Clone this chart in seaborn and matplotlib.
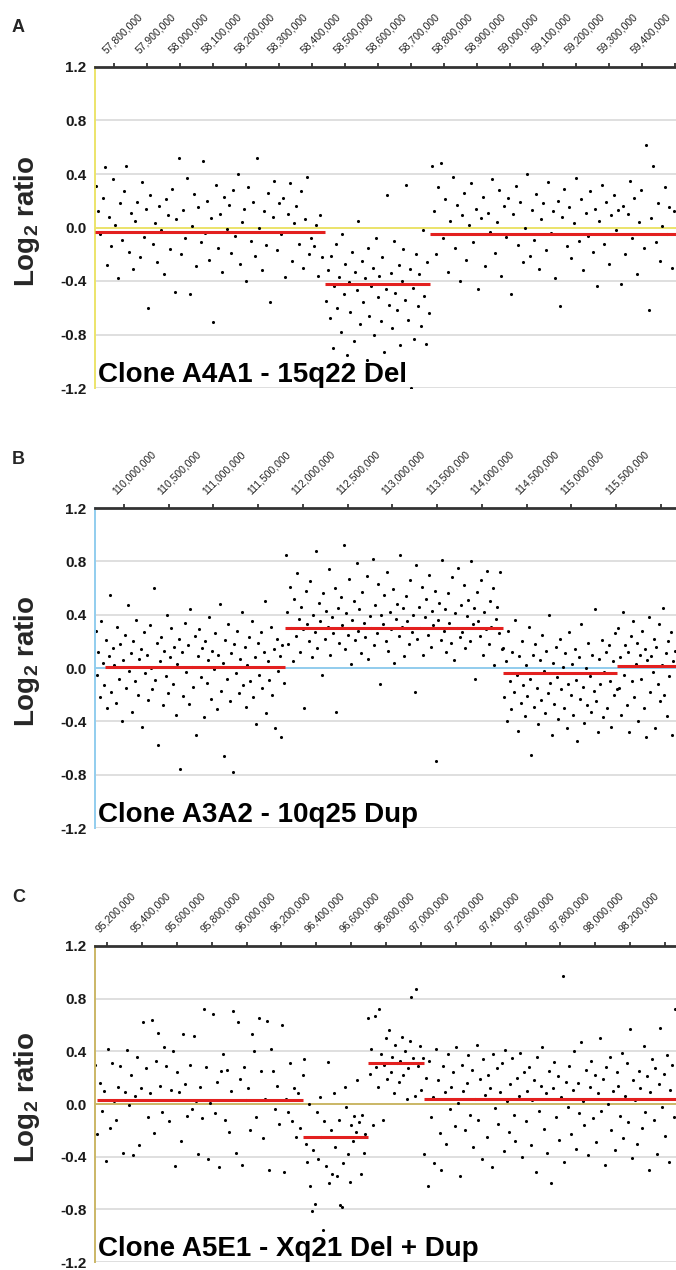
import pandas as pd
import seaborn as sns
import matplotlib.pyplot as plt
import matplotlib.transforms as mtransforms

# ---------------- Panel A : Clone A4A1 - 15q22 Del (positions in kb)
a_pos_kb = [
    57745, 57752, 57758, 57765, 57771, 57778, 57785, 57791, 57798, 57804,
    57811, 57818, 57824, 57831, 57837, 57844, 57851, 57857, 57864, 57870,
    57877, 57884, 57890, 57897, 57903, 57910, 57917, 57923, 57930, 57936,
    57943, 57950, 57956, 57963, 57969, 57976, 57983, 57989, 57996, 58002,
    58009, 58016, 58022, 58029, 58035, 58042, 58049, 58055, 58062, 58068,
    58075, 58082, 58088, 58095, 58101, 58108, 58115, 58121, 58128, 58134,
    58141, 58148, 58154, 58161, 58167, 58174, 58181, 58187, 58194, 58200,
    58207, 58214, 58220, 58227, 58233, 58240, 58247, 58253, 58260, 58266,
    58273, 58280, 58286, 58293, 58299, 58306, 58313, 58319, 58326, 58332,
    58339, 58346, 58352, 58359, 58365, 58372, 58379, 58385, 58392, 58398,
    58405, 58412, 58418, 58425, 58431,
    58443, 58448, 58453, 58458, 58462, 58467, 58472, 58477, 58482, 58487,
    58492, 58497, 58501, 58506, 58511, 58516, 58521, 58526, 58531, 58535,
    58540, 58545, 58550, 58555, 58560, 58565, 58569, 58574, 58579, 58584,
    58589, 58594, 58599, 58603, 58608, 58613, 58618, 58623, 58628, 58633,
    58638, 58642, 58647, 58652, 58657, 58662, 58667, 58672, 58676, 58681,
    58686, 58691, 58696, 58701, 58706, 58710, 58715, 58720, 58725, 58730,
    58735, 58740, 58744, 58749, 58753,
    58762, 58769, 58776, 58783, 58790, 58797, 58804, 58812, 58819, 58826,
    58833, 58840, 58847, 58854, 58861, 58868, 58875, 58882, 58889, 58896,
    58903, 58911, 58918, 58925, 58932, 58939, 58946, 58953, 58960, 58967,
    58974, 58981, 58988, 58995, 59002, 59010, 59017, 59024, 59031, 59038,
    59045, 59052, 59059, 59066, 59073, 59080, 59087, 59094, 59101, 59109,
    59116, 59123, 59130, 59137, 59144, 59151, 59158, 59165, 59172, 59179,
    59186, 59193, 59200, 59208, 59215, 59222, 59229, 59236, 59243, 59250,
    59257, 59264, 59271, 59278, 59285, 59292, 59299, 59307, 59314, 59321,
    59328, 59335, 59342, 59349, 59356, 59363, 59370, 59377, 59384, 59391,
    59398, 59406, 59413, 59420, 59427, 59434, 59441, 59448, 59455, 59462,
    59469, 59476, 59483, 59490, 59497]
a_log2 = [
    0.31, 0.12, -0.05, 0.22, 0.45, -0.28, 0.08, -0.14, 0.36, 0.02,
    -0.38, 0.18, -0.09, 0.27, 0.46, -0.18, 0.11, -0.31, 0.05, 0.19,
    -0.22, 0.34, -0.07, 0.14, -0.6, 0.24, -0.12, 0.03, -0.26, 0.16,
    -0.02, -0.35, 0.21, 0.09, -0.16, 0.29, -0.48, 0.06, 0.52, -0.2,
    0.13, -0.08, 0.37, -0.5, 0.01, 0.25, -0.29, 0.15, -0.11, 0.5,
    -0.04, 0.2, -0.24, 0.07, -0.71, 0.32, -0.15, 0.1, -0.33, 0.23,
    -0.01, 0.17, -0.19, 0.28, -0.06, 0.4, -0.27, 0.04, 0.14, -0.4,
    0.3, -0.1, 0.19, -0.21, 0.52, 0.0, -0.32, 0.12, -0.13, 0.26,
    -0.56, 0.08, 0.35, -0.17, 0.18, -0.05, 0.22, -0.37, 0.1, 0.33,
    -0.25, 0.03, 0.16, -0.12, 0.27, -0.3, 0.06, 0.38, -0.2, -0.08,
    -0.14, 0.02, -0.36, 0.09, -0.22,
    -0.55, -0.32, -0.68, -0.21, -0.9, -0.44, -0.12, -0.6, -0.37, -0.78,
    -0.05, -0.5, -0.27, -0.95, -0.41, -0.63, -0.18, -0.85, -0.33, -0.47,
    0.05, -0.72, -0.25, -0.56, -0.38, -0.99, -0.15, -0.66, -0.44, -0.3,
    -0.8, -0.08, -0.52, -0.36, -0.7, -0.22, -0.93, -0.46, 0.24, -0.58,
    -0.34, -0.75, -0.1, -0.49, -0.62, -0.28, -0.88, -0.4, -0.16, -0.54,
    0.32, -0.69, -0.31, -1.2, -0.45, -0.83, -0.2, -0.59, -0.35, -0.74,
    -0.02, -0.51, -0.87, -0.26, -0.64,
    0.46, 0.12, -0.2, 0.3, 0.48, -0.08, 0.21, -0.33, 0.05, 0.38,
    -0.15, 0.17, -0.4, 0.09, 0.26, -0.24, 0.02, 0.33, -0.11, 0.14,
    -0.46, 0.07, 0.23, -0.29, 0.11, -0.03, 0.36, -0.19, 0.04, 0.28,
    -0.36, 0.16, -0.07, 0.22, -0.5, 0.1, 0.31, -0.13, 0.19, -0.26,
    0.0, 0.4, -0.21, 0.13, -0.09, 0.25, -0.31, 0.06, 0.18, -0.17,
    0.34, -0.04, 0.12, -0.38, 0.2, -0.59, 0.08, 0.29, -0.14, 0.15,
    -0.23, 0.03, 0.37, -0.1, 0.21, -0.32, 0.11, -0.06, 0.27, -0.18,
    0.14, -0.44, 0.05, 0.32, -0.12, 0.19, -0.27, 0.09, 0.24, -0.02,
    0.13, -0.42, 0.16, -0.2, 0.1, 0.35, -0.08, 0.22, -0.35, 0.04,
    0.28, -0.15, 0.62, -0.62, 0.07, 0.46, -0.11, 0.18, -0.25, 0.01,
    0.3, -0.05, 0.15, -0.3, 0.12]
a_seg_start = [57742, 58439, 58757]
a_seg_end = [58439, 58757, 59503]
a_seg_mean = [-0.03, -0.42, -0.045]
a_ticks_kb = [57800, 57900, 58000, 58100, 58200, 58300, 58400, 58500, 58600,
              58700, 58800, 58900, 59000, 59100, 59200, 59300, 59400, 59500]
a_tick_labels = ['57,800,000', '57,900,000', '58,000,000', '58,100,000',
                 '58,200,000', '58,300,000', '58,400,000', '58,500,000',
                 '58,600,000', '58,700,000', '58,800,000', '58,900,000',
                 '59,000,000', '59,100,000', '59,200,000', '59,300,000',
                 '59,400,000', '']

# ---------------- Panel B : Clone A3A2 - 10q25 Dup
b_pos_kb = [
    109682, 109697, 109714, 109730, 109747, 109762, 109779, 109795, 109811, 109828,
    109844, 109860, 109877, 109893, 109909, 109926, 109942, 109958, 109975, 109991,
    110007, 110024, 110040, 110056, 110073, 110089, 110105, 110122, 110138, 110154,
    110171, 110187, 110203, 110220, 110236, 110252, 110269, 110285, 110301, 110318,
    110334, 110350, 110367, 110383, 110399, 110416, 110432, 110448, 110465, 110481,
    110497, 110514, 110530, 110546, 110563, 110579, 110595, 110612, 110628, 110644,
    110661, 110677, 110693, 110710, 110726, 110742, 110759, 110775, 110791, 110808,
    110824, 110840, 110857, 110873, 110889, 110906, 110922, 110938, 110955, 110971,
    110987, 111004, 111020, 111036, 111053, 111069, 111085, 111102, 111118, 111134,
    111151, 111167, 111183, 111200, 111216, 111232, 111249, 111265, 111281, 111298,
    111314, 111330, 111347, 111363, 111379, 111396, 111412, 111428, 111445, 111461,
    111477, 111494, 111510, 111526, 111543, 111559, 111575, 111592, 111608, 111624,
    111641, 111657, 111673, 111690, 111706, 111722, 111739, 111755, 111771, 111788,
    111805, 111821, 111838, 111854, 111870, 111886, 111902, 111919, 111935, 111951,
    111967, 111983, 112000, 112016, 112032, 112048, 112064, 112081, 112097, 112113,
    112129, 112145, 112162, 112178, 112194, 112210, 112226, 112243, 112259, 112275,
    112291, 112307, 112324, 112340, 112356, 112372, 112388, 112405, 112421, 112437,
    112453, 112469, 112486, 112502, 112518, 112534, 112550, 112567, 112583, 112599,
    112615, 112631, 112648, 112664, 112680, 112696, 112712, 112729, 112745, 112761,
    112777, 112793, 112810, 112826, 112842, 112858, 112874, 112891, 112907, 112923,
    112939, 112955, 112972, 112988, 113004, 113020, 113036, 113053, 113069, 113085,
    113101, 113117, 113134, 113150, 113166, 113182, 113198, 113215, 113231, 113247,
    113263, 113279, 113296, 113312, 113328, 113344, 113360, 113377, 113393, 113409,
    113425, 113441, 113458, 113474, 113490, 113506, 113522, 113539, 113555, 113571,
    113587, 113603, 113620, 113636, 113652, 113668, 113684, 113701, 113717, 113733,
    113749, 113765, 113782, 113798, 113814, 113830, 113846, 113863, 113879, 113895,
    113911, 113927, 113944, 113960, 113976, 113992, 114008, 114025, 114041, 114057,
    114073, 114089, 114106, 114122, 114138, 114154, 114170, 114187, 114203, 114219,
    114235, 114250, 114265, 114280, 114295, 114311, 114326, 114341, 114356, 114371,
    114386, 114401, 114416, 114431, 114447, 114462, 114477, 114492, 114507, 114522,
    114537, 114552, 114567, 114583, 114598, 114613, 114628, 114643, 114658, 114673,
    114688, 114703, 114719, 114734, 114749, 114764, 114779, 114794, 114809, 114824,
    114839, 114855, 114870, 114885, 114900, 114915, 114930, 114945, 114960, 114975,
    114991, 115006, 115021, 115036, 115051, 115066, 115081, 115096, 115111, 115127,
    115142, 115157, 115172, 115187, 115202, 115217, 115232, 115247, 115263, 115278,
    115293, 115308, 115323, 115338, 115353, 115368, 115383, 115399, 115414, 115429,
    115444, 115459, 115474, 115489, 115504,
    115515, 115530, 115544, 115559, 115573, 115588, 115602, 115617, 115631, 115646,
    115660, 115675, 115689, 115704, 115718, 115733, 115747, 115762, 115776, 115791,
    115805, 115820, 115834, 115849, 115863, 115878, 115892, 115907, 115921, 115936,
    115950, 115965, 115979, 115994, 116008, 116023, 116037, 116052, 116066, 116081,
    116095, 116110, 116124, 116139, 116153]
b_log2 = [
    0.28, -0.05, 0.12, -0.22, 0.35, 0.04, -0.13, 0.21, -0.3, 0.09,
    0.55, -0.18, 0.15, 0.02, -0.26, 0.31, -0.08, 0.18, -0.4, 0.06,
    0.25, -0.15, 0.47, -0.02, 0.11, -0.33, 0.2, -0.1, 0.36, -0.2,
    0.07, 0.14, -0.44, 0.27, -0.04, 0.1, -0.24, 0.32, 0.0, -0.16,
    0.6, -0.09, 0.19, -0.58, 0.05, 0.23, -0.28, 0.13, -0.06, 0.4,
    -0.19, 0.08, 0.3, -0.12, 0.16, -0.35, 0.03, 0.22, -0.76, 0.12,
    -0.21, 0.34, -0.03, 0.17, -0.27, 0.44, 0.01, -0.14, 0.24, -0.5,
    0.09, 0.29, -0.07, 0.15, -0.37, 0.2, -0.11, 0.06, 0.38, -0.23,
    0.13, -0.01, 0.26, -0.31, 0.1, 0.48, -0.17, 0.04, -0.66, 0.21,
    -0.08, 0.33, -0.25, 0.11, -0.78, 0.18, -0.04, 0.28, -0.19, 0.07,
    0.42, -0.13, 0.16, -0.29, 0.02, 0.23, -0.1, 0.35, -0.22, 0.08,
    -0.42, 0.19, -0.05, 0.27, -0.15, 0.12, 0.5, -0.34, 0.05, -0.09,
    0.31, -0.2, 0.14, -0.45, 0.22, -0.02, 0.09, -0.52, 0.17, -0.11,
    0.85, 0.42, 0.18, 0.61, 0.3, 0.05, 0.52, 0.24, 0.71, 0.37,
    0.12, 0.46, 0.29, -0.3, 0.58, 0.33, 0.2, 0.65, 0.08, 0.4,
    0.27, 0.88, 0.15, 0.49, 0.35, -0.05, 0.56, 0.22, 0.43, 0.31,
    0.74, 0.1, 0.38, 0.26, 0.6, -0.33, 0.45, 0.19, 0.53, 0.32,
    0.92, 0.14, 0.41, 0.25, 0.67, 0.03, 0.36, 0.5, 0.21, 0.79,
    0.28, 0.44, 0.11, 0.57, 0.34, 0.23, 0.69, 0.07, 0.39, 0.3,
    0.82, 0.17, 0.47, 0.26, 0.63, -0.12, 0.4, 0.33, 0.55, 0.2,
    0.72, 0.13, 0.42, 0.29, 0.59, 0.04, 0.37, 0.48, 0.24, 0.85,
    0.31, 0.45, 0.09, 0.54, 0.35, 0.18, 0.66, 0.27, 0.4, -0.18,
    0.77, 0.22, 0.46, 0.3, 0.61, 0.1, 0.38, 0.52, 0.25, 0.7,
    0.16, 0.43, 0.32, 0.58, -0.7, 0.36, 0.49, 0.21, 0.81, 0.28,
    0.44, 0.12, 0.56, 0.34, 0.19, 0.68, 0.06, 0.41, 0.3, 0.75,
    0.23, 0.47, 0.27, 0.62, 0.15, 0.39, 0.51, 0.2, 0.8, 0.33,
    0.45, -0.08, 0.57, 0.35, 0.24, 0.66, 0.1, 0.42, 0.29, 0.73,
    0.18, 0.5, 0.31, 0.6, 0.02, 0.37, 0.46, 0.26, 0.72, 0.14,
    0.15, -0.22, 0.05, -0.4, 0.28, -0.1, -0.31, 0.12, -0.18, 0.36,
    -0.05, -0.47, 0.09, -0.26, 0.2, -0.13, -0.36, 0.02, -0.21, 0.31,
    -0.08, -0.65, 0.1, -0.29, 0.18, -0.15, -0.42, 0.06, -0.24, 0.25,
    -0.02, -0.34, 0.13, -0.19, 0.4, -0.11, -0.5, 0.04, -0.27, 0.16,
    -0.07, -0.38, 0.22, -0.16, 0.01, -0.3, 0.11, -0.45, -0.12, 0.27,
    -0.2, 0.03, -0.35, 0.14, -0.09, -0.55, 0.08, -0.23, 0.33, -0.14,
    -0.41, 0.0, -0.28, 0.19, -0.06, -0.33, 0.1, -0.17, 0.44, -0.25,
    -0.48, 0.07, -0.12, 0.21, -0.37, -0.03, 0.12, -0.3, 0.17, -0.1,
    -0.44, 0.05, -0.2, 0.26, -0.16,
    0.3, -0.15, 0.08, -0.35, 0.42, -0.05, 0.17, -0.28, 0.12, -0.48,
    0.24, -0.1, 0.35, -0.22, 0.03, 0.19, -0.4, 0.1, -0.08, 0.28,
    -0.3, 0.14, -0.52, 0.06, 0.38, -0.18, 0.09, -0.03, 0.22, -0.45,
    0.16, -0.12, 0.33, -0.25, 0.02, 0.45, -0.2, 0.11, -0.36, 0.2,
    -0.06, 0.27, -0.5, 0.05, 0.13]
b_seg_start = [109790, 111800, 114230, 115510]
b_seg_end = [111800, 114230, 115510, 116168]
b_seg_mean = [0.01, 0.30, -0.04, 0.015]
b_ticks_kb = [110000, 110500, 111000, 111500, 112000, 112500, 113000,
              113500, 114000, 114500, 115000, 115500, 116000]
b_tick_labels = ['110,000,000', '110,500,000', '111,000,000', '111,500,000',
                 '112,000,000', '112,500,000', '113,000,000', '113,500,000',
                 '114,000,000', '114,500,000', '115,000,000', '115,500,000', '']

# ---------------- Panel C : Clone A5E1 - Xq21 Del + Dup
c_pos_kb = [
    95133, 95145, 95157, 95169, 95181, 95193, 95205, 95217, 95229, 95241,
    95253, 95265, 95277, 95289, 95301, 95313, 95325, 95337, 95349, 95361,
    95373, 95385, 95397, 95409, 95421, 95433, 95445, 95457, 95469, 95481,
    95493, 95505, 95517, 95529, 95541, 95553, 95565, 95577, 95589, 95601,
    95613, 95625, 95637, 95649, 95661, 95673, 95685, 95697, 95709, 95721,
    95733, 95745, 95757, 95769, 95781, 95793, 95805, 95817, 95829, 95841,
    95853, 95865, 95877, 95889, 95901, 95913, 95925, 95937, 95949, 95961,
    95973, 95985, 95997, 96009, 96021, 96033, 96045, 96057, 96069, 96081,
    96093, 96105, 96117, 96129, 96141, 96153, 96165, 96177, 96189, 96201,
    96213, 96225, 96237, 96249, 96261, 96273, 96285, 96297, 96309, 96321,
    96330, 96339, 96348, 96357, 96366, 96375, 96384, 96393, 96402, 96411,
    96420, 96429, 96438, 96447, 96456, 96465, 96474, 96483, 96492, 96501,
    96510, 96519, 96528, 96537, 96546, 96555, 96564, 96573, 96582, 96591,
    96600, 96609, 96618, 96627, 96636, 96645, 96654, 96663, 96672, 96681,
    96698, 96707, 96716, 96726, 96735, 96744, 96753, 96762, 96772, 96781,
    96790, 96799, 96808, 96818, 96827, 96836, 96845, 96854, 96864, 96873,
    96882, 96891, 96900, 96910, 96919, 96928, 96937, 96946, 96956, 96965,
    96974, 96983, 96992, 97002, 97011,
    97020, 97030, 97039, 97049, 97059, 97068, 97078, 97088, 97097, 97107,
    97117, 97126, 97136, 97146, 97155, 97165, 97175, 97184, 97194, 97204,
    97213, 97223, 97233, 97242, 97252, 97262, 97271, 97281, 97291, 97300,
    97310, 97320, 97329, 97339, 97349, 97358, 97368, 97378, 97387, 97397,
    97407, 97416, 97426, 97436, 97445, 97455, 97465, 97474, 97484, 97494,
    97503, 97513, 97523, 97532, 97542, 97552, 97561, 97571, 97581, 97590,
    97600, 97610, 97619, 97629, 97639, 97648, 97658, 97668, 97677, 97687,
    97697, 97706, 97716, 97726, 97735, 97745, 97755, 97764, 97774, 97784,
    97793, 97803, 97813, 97822, 97832, 97842, 97851, 97861, 97871, 97880,
    97890, 97900, 97909, 97919, 97929, 97938, 97948, 97958, 97967, 97977,
    97987, 97996, 98006, 98016, 98025, 98035, 98045, 98054, 98064, 98074,
    98083, 98093, 98103, 98112, 98122, 98132, 98141, 98151, 98161, 98170,
    98180, 98190, 98199, 98209, 98219, 98228, 98238, 98248, 98257, 98267,
    98277, 98286, 98296, 98306, 98315, 98325, 98335, 98344, 98354, 98364,
    98373, 98383, 98393, 98402, 98412, 98422, 98431, 98441, 98451, 98460]
c_log2 = [
    0.3, -0.23, 0.16, -0.05, 0.1, -0.43, 0.42, -0.18, 0.31, 0.02,
    -0.12, 0.13, 0.29, -0.37, 0.09, 0.41, -0.01, 0.22, -0.39, 0.06,
    0.36, -0.31, 0.12, 0.62, 0.27, -0.1, 0.08, 0.64, -0.22, 0.33,
    0.54, 0.14, -0.06, 0.43, 0.29, -0.13, 0.11, 0.4, -0.47, 0.24,
    0.09, -0.28, 0.53, 0.15, -0.09, 0.3, -0.04, 0.52, 0.02, -0.38,
    0.13, -0.11, 0.72, 0.28, -0.42, 0.01, 0.68, -0.07, 0.17, -0.48,
    0.25, 0.38, -0.12, 0.26, -0.21, 0.1, 0.71, -0.37, 0.62, 0.19,
    -0.46, 0.28, 0.03, 0.12, -0.2, 0.53, 0.4, -0.1, 0.65, 0.25,
    -0.26, 0.04, 0.63, -0.5, 0.42, 0.25, -0.04, 0.14, -0.15, 0.6,
    -0.52, 0.04, -0.06, 0.31, -0.13, 0.12, -0.25, 0.08, -0.18, 0.22,
    0.34, -0.3, -0.44, 0.0, -0.62, -0.81, -0.35, -0.76, -0.06, -0.42,
    0.05, -0.25, -0.96, -0.13, -0.47, 0.32, -0.6, -0.2, -0.53, 0.08,
    -0.33, -0.55, -0.12, -0.77, -0.78, -0.45, 0.13, -0.02, -0.38, -0.59,
    -0.16, -0.28, -0.09, -0.21, 0.18, -0.14, -0.53, -0.08, -0.37, -0.23,
    0.65, 0.23, 0.42, -0.16, 0.67, 0.28, 0.13, 0.72, 0.38, -0.12,
    0.3, 0.5, 0.19, 0.56, 0.24, 0.36, 0.08, 0.45, 0.31, 0.17,
    0.33, 0.51, 0.22, 0.4, 0.04, 0.27, 0.48, 0.81, 0.35, 0.06,
    0.87, 0.29, 0.44, 0.11, 0.35,
    -0.38, 0.2, -0.62, 0.33, -0.1, 0.05, -0.45, 0.42, 0.18, -0.22,
    -0.5, 0.29, 0.09, -0.3, 0.38, -0.04, 0.13, 0.24, -0.17, 0.43,
    0.01, -0.55, 0.3, 0.1, -0.2, 0.16, 0.37, -0.08, 0.26, -0.33,
    0.04, 0.45, -0.12, 0.19, -0.42, 0.34, 0.07, -0.25, 0.22, 0.12,
    -0.48, 0.38, -0.03, 0.27, -0.15, 0.09, 0.31, -0.36, 0.41, 0.02,
    -0.21, 0.15, 0.35, -0.08, -0.28, 0.2, 0.06, 0.39, -0.4, 0.24,
    -0.13, 0.1, 0.28, -0.31, 0.03, 0.18, -0.52, 0.36, -0.05, 0.14,
    0.43, -0.19, 0.08, -0.37, 0.25, -0.6, 0.12, 0.32, -0.1, 0.21,
    -0.27, 0.05, 0.97, -0.44, 0.17, -0.02, 0.29, -0.23, 0.11, 0.4,
    -0.34, 0.16, -0.07, 0.47, 0.02, -0.16, 0.26, -0.39, 0.13, 0.33,
    -0.11, 0.22, -0.29, 0.08, 0.5, -0.05, 0.19, -0.46, 0.28, 0.0,
    0.36, -0.2, 0.1, -0.35, 0.24, 0.14, -0.09, 0.39, -0.26, 0.06,
    0.31, -0.14, 0.57, -0.41, 0.18, 0.03, -0.3, 0.25, 0.12, -0.18,
    0.44, -0.06, 0.21, -0.5, 0.09, 0.34, -0.12, 0.27, -0.38, 0.15,
    0.58, -0.02, 0.23, -0.24, 0.37, -0.44, 0.11, 0.3, -0.1, 0.72]
c_seg_start = [95142, 96326, 96694, 97016]
c_seg_end = [96326, 96694, 97016, 98463]
c_seg_mean = [0.03, -0.25, 0.31, 0.04]
c_ticks_kb = [95200, 95400, 95600, 95800, 96000, 96200, 96400, 96600, 96800,
              97000, 97200, 97400, 97600, 97800, 98000, 98200, 98400]
c_tick_labels = ['95,200,000', '95,400,000', '95,600,000', '95,800,000',
                 '96,000,000', '96,200,000', '96,400,000', '96,600,000',
                 '96,800,000', '97,000,000', '97,200,000', '97,400,000',
                 '97,600,000', '97,800,000', '98,000,000', '98,200,000', '']

y_ticks = [-1.2, -0.8, -0.4, 0.0, 0.4, 0.8, 1.2]

sns.set_style("white")
plt.rcParams['font.family'] = ['Liberation Sans', 'DejaVu Sans']
plt.rcParams['mathtext.fontset'] = 'custom'
plt.rcParams['mathtext.rm'] = 'Liberation Sans'
plt.rcParams['mathtext.bf'] = 'Liberation Sans:bold'

fig = plt.figure(figsize=(6.76, 12.7), dpi=100)


def draw_panel(rect, pos_kb, log2, seg_start, seg_end, seg_mean, xlim_kb,
               ticks_kb, tick_labels, axis_color, title, letter, letter_y):
    ax = fig.add_axes(rect)
    df = pd.DataFrame({'pos': [p * 1000 for p in pos_kb], 'log2': log2})

    ax.set_yticks(y_ticks)
    ax.yaxis.grid(True, color='#dcdcdc', linewidth=1.3)
    ax.set_axisbelow(True)
    ax.axhline(0, color=axis_color, linewidth=1.4, zorder=1)

    sns.scatterplot(data=df, x='pos', y='log2', ax=ax, color='black',
                    s=5, linewidth=0, legend=False, zorder=2)
    ax.hlines(seg_mean, [s * 1000 for s in seg_start],
              [e * 1000 for e in seg_end], color='#e3201f',
              linewidth=2.2, zorder=3)

    ax.set_xlim(xlim_kb[0] * 1000, xlim_kb[1] * 1000)
    ax.set_ylim(-1.2, 1.2)

    # spines
    for side in ['right', 'bottom']:
        ax.spines[side].set_visible(False)
    ax.spines['left'].set_color(axis_color)
    ax.spines['left'].set_linewidth(1.4)
    ax.spines['top'].set_color('#333333')
    ax.spines['top'].set_linewidth(2)

    # y axis
    ax.set_yticklabels([f'{v:.1f}' for v in y_ticks], fontsize=11,
                       fontweight='bold', color='#1a1a1a')
    ax.tick_params(axis='y', direction='out', length=3, width=1.2,
                   color=axis_color, pad=3)
    ax.set_ylabel(r'Log$_\mathbf{2}$ ratio', fontsize=20, fontweight='bold')
    ax.yaxis.set_label_coords(-0.092, 0.52)
    ax.set_xlabel('')

    # x axis on top, rotated labels drawn as text
    ax.xaxis.set_ticks_position('top')
    ax.set_xticks([t * 1000 for t in ticks_kb])
    ax.tick_params(axis='x', direction='out', length=3, width=1.2,
                   color='#222222', labeltop=False, labelbottom=False)
    trans = mtransforms.blended_transform_factory(ax.transData, ax.transAxes)
    offset = mtransforms.ScaledTranslation(-6 / 100, 12 / 100,
                                           fig.dpi_scale_trans)
    for t, lab in zip(ticks_kb, tick_labels):
        ax.text(t * 1000, 1.0, lab, transform=trans + offset, rotation=45,
                rotation_mode='anchor', ha='left', va='bottom',
                fontsize=7.5, color='#222222')

    # clone label
    ttrans = mtransforms.blended_transform_factory(ax.transAxes, ax.transData)
    ax.text(0.005, -1.155, title, transform=ttrans, fontsize=20,
            fontweight='bold', ha='left', va='baseline', color='black')

    fig.text(12 / 676, letter_y, letter, fontsize=13, fontweight='bold',
             ha='left', va='center')
    return ax


draw_panel([95 / 676, 1 - 388 / 1270, 581 / 676, 321 / 1270],
           a_pos_kb, a_log2, a_seg_start, a_seg_end, a_seg_mean,
           (57742, 59503), a_ticks_kb, a_tick_labels, '#ece46a',
           'Clone A4A1 - 15q22 Del', 'A', 1 - 27 / 1270)
draw_panel([95 / 676, 1 - 828 / 1270, 581 / 676, 320 / 1270],
           b_pos_kb, b_log2, b_seg_start, b_seg_end, b_seg_mean,
           (109676, 116168), b_ticks_kb, b_tick_labels, '#92cdee',
           'Clone A3A2 - 10q25 Dup', 'B', 1 - 460 / 1270)
draw_panel([95 / 676, 1 - 1262 / 1270, 581 / 676, 316 / 1270],
           c_pos_kb, c_log2, c_seg_start, c_seg_end, c_seg_mean,
           (95131, 98463), c_ticks_kb, c_tick_labels, '#cbb766',
           'Clone A5E1 - Xq21 Del + Dup', 'C', 1 - 898 / 1270)

fig.savefig('out.png', dpi=100)
